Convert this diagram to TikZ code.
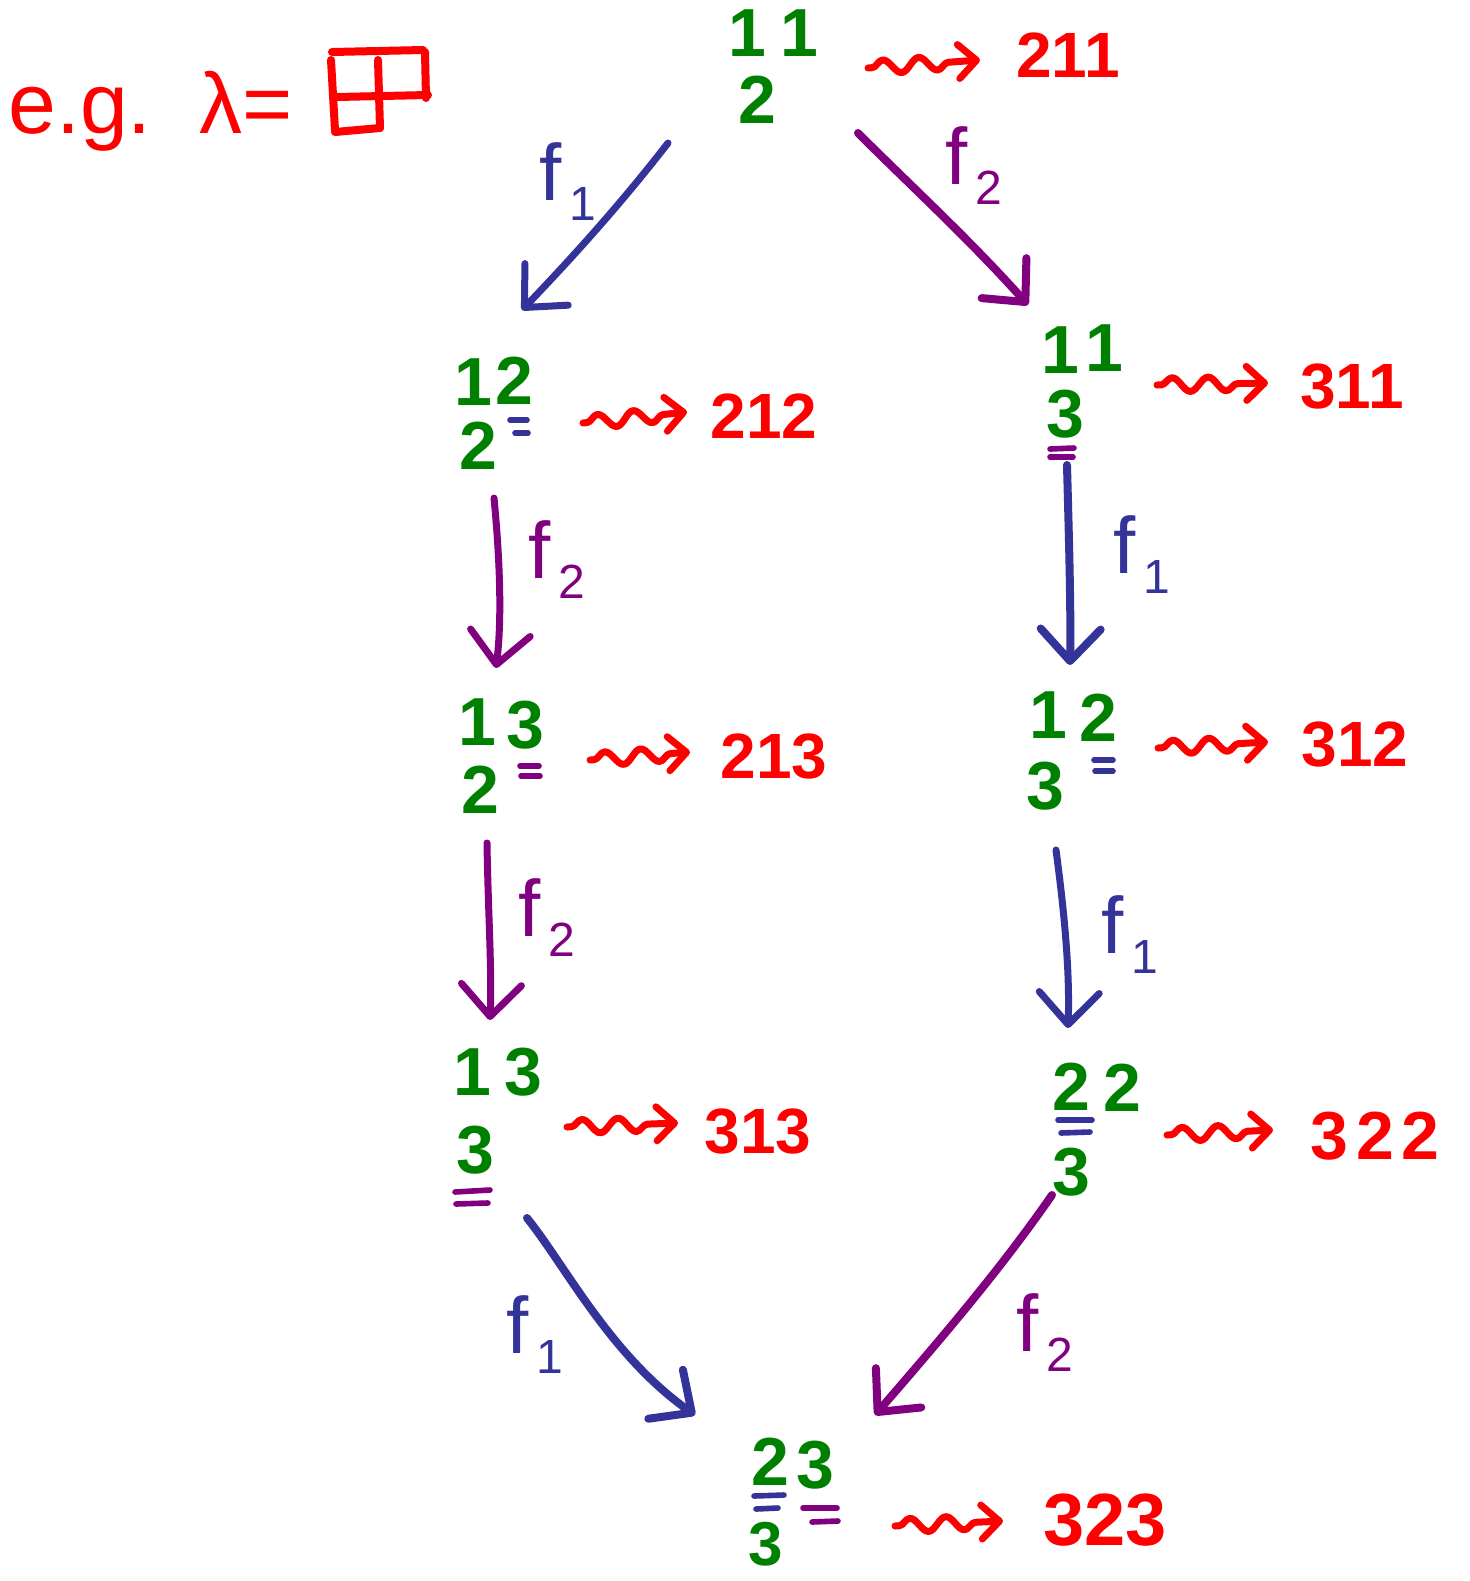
\documentclass[tikz,border=0pt]{standalone}
\usepackage{fontspec}
\setmainfont{Liberation Sans}
\usetikzlibrary{arrows.meta,decorations.pathmorphing}
\definecolor{hgreen}{RGB}{0,128,0}
\definecolor{hred}{RGB}{255,0,0}
\definecolor{hblue}{RGB}{51,51,153}
\definecolor{hpurple}{RGB}{128,0,128}
\newcommand{\flab}[1]{f\kern4pt\raisebox{-10pt}{\fontsize{24}{24}\selectfont #1}}
\begin{document}
\begin{tikzpicture}[x=0.5pt,y=-0.5pt,
  dig/.style={text=hgreen,font=\fontsize{34}{34}\selectfont\bfseries,inner sep=0pt},
  res/.style={text=hred,font=\fontsize{32}{32}\selectfont\bfseries,inner sep=0pt},
  lab/.style={font=\fontsize{40}{40}\selectfont,inner sep=0pt},
  bar/.style={line width=2.8pt,line cap=round},
  yd/.style={hred,line width=4pt,line cap=round},
  sq/.style={hred,line width=3.5pt,line cap=round,line join=round,decorate,
    decoration={snake,amplitude=3.5pt,segment length=18pt,post length=9pt,pre length=2pt},
    -{Straight Barb[length=9pt,width=17pt,round]}},
  ar/.style={line width=3.5pt,line cap=round,-{Straight Barb[length=16pt,width=30pt,round]}},
]
\path[use as bounding box] (0,0) rectangle (1470,1581);

% e.g. lambda =
\node[text=hred,font=\fontsize{43}{43}\selectfont,inner sep=0pt,anchor=base west] (eg) at (8,133) {e.g.\ \ λ=};
\draw[yd] (332,52) -- (423,50);
\draw[yd] (425,52) -- (426,98);
\draw[yd] (337,97) -- (428,95);
\draw[yd] (331,60) -- (335,130);
\draw[yd] (378,60) -- (380,128);
\draw[yd] (335,132) -- (380,128);

% top tableau
\node[dig] (t0a) at (747,33) {1};
\node[dig] (t0b) at (799,33) {1};
\node[dig] (t0c) at (757,100) {2};
\node[res] (r0) at (1068,55) {211};
\coordinate (s0a) at (868,68); \coordinate (s0b) at (980,60);
\draw[sq] (s0a) -- (s0b);

% left 1
\node[dig] (l1a) at (473,382) {1};
\node[dig] (l1b) at (514,381) {2};
\node[dig] (l1c) at (478,446) {2};
\draw[bar,hblue] (510,420) -- (527,420);
\draw[bar,hblue] (515,433) -- (528,433);
\node[res] (r1) at (764,416) {212};
\coordinate (s1a) at (583,423); \coordinate (s1b) at (687,412);
\draw[sq] (s1a) -- (s1b);

% right 1
\node[dig] (q1a) at (1060,350) {1};
\node[dig] (q1b) at (1104,348) {1};
\node[dig] (q1c) at (1065,414) {3};
\draw[bar,hpurple] (1050,449) -- (1074,448);
\draw[bar,hpurple] (1050,457) -- (1073,457);
\node[res] (r2) at (1352,387) {311};
\coordinate (s2a) at (1157,385); \coordinate (s2b) at (1268,383);
\draw[sq] (s2a) -- (s2b);

% left 2
\node[dig] (l2a) at (477,722) {1};
\node[dig] (l2b) at (525,725) {3};
\node[dig] (l2c) at (480,790) {2};
\draw[bar,hpurple] (520,766) -- (539,766);
\draw[bar,hpurple] (521,776) -- (540,776);
\node[res] (r3) at (774,757) {213};
\coordinate (s3a) at (590,760); \coordinate (s3b) at (690,752);
\draw[sq] (s3a) -- (s3b);

% right 2
\node[dig] (q2a) at (1048,715) {1};
\node[dig] (q2b) at (1098,718) {2};
\node[dig] (q2c) at (1045,786) {3};
\draw[bar,hblue] (1094,760) -- (1113,760);
\draw[bar,hblue] (1095,771) -- (1113,771);
\node[res] (r4) at (1355,745) {312};
\coordinate (s4a) at (1158,748); \coordinate (s4b) at (1268,742);
\draw[sq] (s4a) -- (s4b);

% left 3
\node[dig] (l3a) at (472,1072) {1};
\node[dig] (l3b) at (523,1072) {3};
\node[dig] (l3c) at (475,1150) {3};
\draw[bar,hpurple] (455,1192) -- (490,1190);
\draw[bar,hpurple] (456,1204) -- (488,1203);
\node[res] (r5) at (758,1131) {313};
\coordinate (s5a) at (567,1127); \coordinate (s5b) at (678,1123);
\draw[sq] (s5a) -- (s5b);

% right 3
\node[dig] (q3a) at (1071,1087) {2};
\node[dig] (q3b) at (1122,1088) {2};
\draw[bar,hblue] (1058,1120) -- (1092,1120);
\draw[bar,hblue] (1061,1133) -- (1090,1132);
\node[dig] (q3c) at (1071,1172) {3};
\node[res,font=\fontsize{34}{34}\selectfont\bfseries] (r6) at (1375,1136) {3\kern4pt2\kern4pt2};
\coordinate (s6a) at (1167,1135); \coordinate (s6b) at (1273,1130);
\draw[sq] (s6a) -- (s6b);

% bottom
\node[dig] (ba) at (770,1462) {2};
\node[dig] (bb) at (815,1465) {3};
\draw[bar,hblue] (754,1496) -- (784,1495);
\draw[bar,hblue] (756,1509) -- (778,1508);
\draw[bar,hpurple] (803,1508) -- (837,1508);
\draw[bar,hpurple] (812,1522) -- (838,1521);
\node[dig,font=\fontsize{31}{31}\selectfont\bfseries] (bc) at (766,1544) {3};
\node[res,font=\fontsize{37}{37}\selectfont\bfseries] (r7) at (1105,1520) {323};
\coordinate (s7a) at (895,1526); \coordinate (s7b) at (1003,1521);
\draw[sq] (s7a) -- (s7b);

% connectors
\coordinate (e1a) at (668,143); \coordinate (e1b) at (522,310);
\draw[ar,hblue] (e1a) .. controls (620,205) and (570,260) .. (e1b);
\node[lab,text=hblue] (f1) at (568,182) {\flab{1}};

\coordinate (e2a) at (858,133); \coordinate (e2b) at (1028,305);
\draw[ar,hpurple,line width=4pt] (e2a) .. controls (910,185) and (970,240) .. (e2b);
\node[lab,text=hpurple] (f2) at (974,166) {\flab{2}};

\coordinate (e3a) at (494,498); \coordinate (e3b) at (496,668);
\draw[ar,hpurple] (e3a) .. controls (500,560) and (502,620) .. (e3b);
\node[lab,text=hpurple] (f3) at (557,560) {\flab{2}};

\coordinate (e4a) at (1067,465); \coordinate (e4b) at (1070,665);
\draw[ar,hblue,line width=4pt] (e4a) .. controls (1069,540) and (1071,610) .. (e4b);
\node[lab,text=hblue] (f4) at (1142,555) {\flab{1}};

\coordinate (e5a) at (487,843); \coordinate (e5b) at (490,1020);
\draw[ar,hpurple] (e5a) .. controls (488,910) and (492,970) .. (e5b);
\node[lab,text=hpurple] (f5) at (547,918) {\flab{2}};

\coordinate (e6a) at (1056,850); \coordinate (e6b) at (1068,1028);
\draw[ar,hblue] (e6a) .. controls (1064,910) and (1070,970) .. (e6b);
\node[lab,text=hblue] (f6) at (1130,935) {\flab{1}};

\coordinate (e7a) at (527,1218); \coordinate (e7b) at (695,1415);
\draw[ar,hblue,line width=4pt] (e7a) .. controls (565,1265) and (610,1355) .. (e7b);
\node[lab,text=hblue] (f7) at (535,1335) {\flab{1}};

\coordinate (e8a) at (1052,1195); \coordinate (e8b) at (875,1415);
\draw[ar,hpurple,line width=4pt] (e8a) .. controls (1000,1270) and (940,1340) .. (e8b);
\node[lab,text=hpurple] (f8) at (1045,1333) {\flab{2}};
\end{tikzpicture}
\end{document}
